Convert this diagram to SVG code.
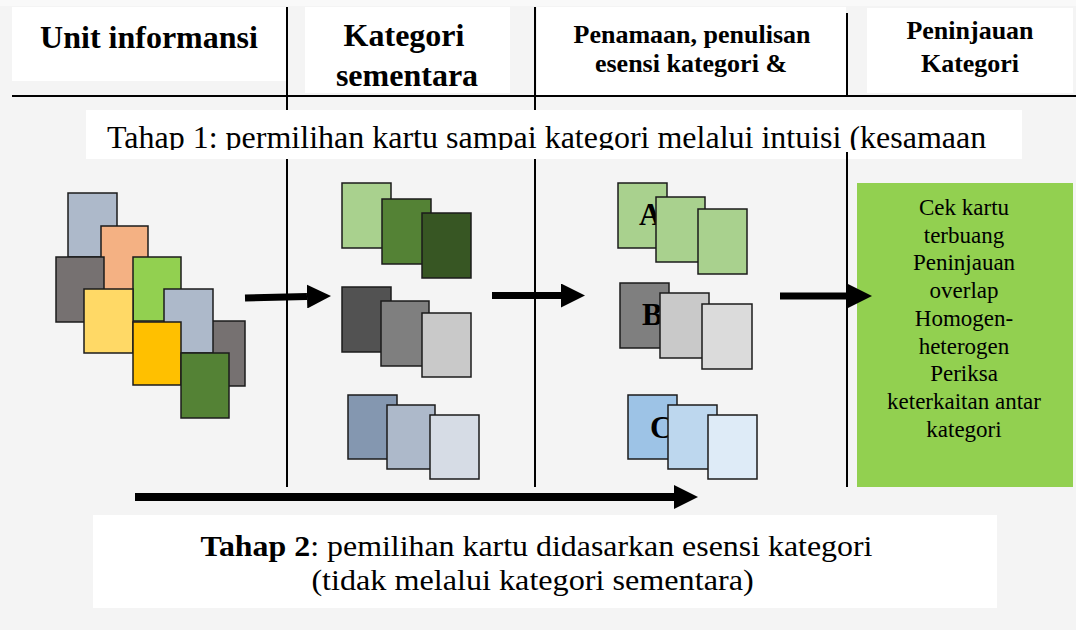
<svg xmlns="http://www.w3.org/2000/svg" width="1076" height="630" viewBox="0 0 1076 630">
  <style>
    .hdr { fill: #ffffff; }
    .ttl { font-weight: bold; fill: #000; text-anchor: middle; }
    .body { fill: #000; }
    .card { stroke: #1b1b1b; stroke-width: 1.5; }
    .vline { stroke: #000; stroke-width: 2; fill: none; }
    .arrow { stroke: #000; fill: none; }
    .lbl { font-weight: bold; font-size: 31px; fill: #000; }
  </style>
  <defs>
    <marker id="ah" markerUnits="userSpaceOnUse" markerWidth="24" markerHeight="24" viewBox="0 0 24 24" refX="0" refY="12" orient="auto">
      <path d="M0,0 L24,12 L0,24 Z" fill="#000"/>
    </marker>
    <clipPath id="t1clip">
      <rect x="86" y="105" width="936" height="45"/>
    </clipPath>
  </defs>

  <!-- background -->
  <rect x="0" y="0" width="1076" height="630" fill="#f4f4f4"/>
  <rect x="0" y="0" width="1076" height="6" fill="#f9f9f9"/>

  <!-- column dividers -->
  <g id="dividers">
    <line class="vline" x1="287" y1="7" x2="287" y2="487"/>
    <line class="vline" x1="535" y1="7" x2="535" y2="487"/>
    <line class="vline" x1="847" y1="13" x2="847" y2="97"/>
    <line class="vline" x1="847" y1="152" x2="847" y2="487"/>
    <line x1="12" y1="96" x2="1076" y2="96" stroke="#000" stroke-width="2"/>
  </g>

  <g font-family="'Liberation Serif', serif">
    <!-- header cells -->
    <g id="hdr-unit">
      <rect class="hdr" x="12" y="7" width="274" height="74"/>
      <text class="ttl" x="149" y="48" font-size="32">Unit informansi</text>
    </g>
    <g id="hdr-kategori-sementara">
      <rect class="hdr" x="305" y="7" width="205" height="86"/>
      <text class="ttl" x="404" y="46" font-size="32">Kategori</text>
      <text class="ttl" x="407" y="86" font-size="32">sementara</text>
    </g>
    <g id="hdr-penamaan">
      <rect class="hdr" x="537" y="7" width="309" height="88"/>
      <text class="ttl" x="692" y="43" font-size="26">Penamaan, penulisan</text>
      <text class="ttl" x="691" y="72" font-size="26">esensi kategori &amp;</text>
    </g>
    <g id="hdr-peninjauan">
      <rect class="hdr" x="867" y="8" width="206" height="85"/>
      <text class="ttl" x="970" y="39" font-size="26">Peninjauan</text>
      <text class="ttl" x="970" y="72" font-size="26">Kategori</text>
    </g>

    <!-- Tahap 1 banner -->
    <g id="tahap1">
      <rect x="86" y="110" width="936" height="49" fill="#ffffff"/>
      <text class="body" x="107" y="148" font-size="32" clip-path="url(#t1clip)">Tahap 1: permilihan kartu sampai kategori melalui intuisi (kesamaan</text>
    </g>
  </g>
  <line class="vline" x1="847" y1="152" x2="847" y2="160"/>

  <!-- unit informasi cards -->
  <g id="cards-unit">
    <rect class="card" x="68" y="193" width="49" height="64" fill="#adb9ca"/>
    <rect class="card" x="101" y="226" width="47" height="64" fill="#f4b183"/>
    <rect class="card" x="56" y="257" width="48" height="65" fill="#767171"/>
    <rect class="card" x="133" y="257" width="48" height="64" fill="#92d050"/>
    <rect class="card" x="84" y="289" width="49" height="64" fill="#ffd966"/>
    <rect class="card" x="197" y="321" width="48" height="65" fill="#767171"/>
    <rect class="card" x="164" y="289" width="49" height="64" fill="#adb9ca"/>
    <rect class="card" x="133" y="322" width="48" height="63" fill="#ffc000"/>
    <rect class="card" x="181" y="353" width="48" height="65" fill="#548235"/>
  </g>

  <!-- kategori sementara cards -->
  <g id="cards-sementara-green">
    <rect class="card" x="342" y="183" width="49" height="65" fill="#a9d18e"/>
    <rect class="card" x="382" y="199" width="49" height="65" fill="#548235"/>
    <rect class="card" x="422" y="213" width="49" height="65" fill="#375623"/>
  </g>
  <g id="cards-sementara-gray">
    <rect class="card" x="342" y="287" width="49" height="65" fill="#525252"/>
    <rect class="card" x="381" y="301" width="48" height="65" fill="#7f7f7f"/>
    <rect class="card" x="422" y="313" width="49" height="64" fill="#c9c9c9"/>
  </g>
  <g id="cards-sementara-blue">
    <rect class="card" x="348" y="395" width="49" height="64" fill="#8497b0"/>
    <rect class="card" x="387" y="405" width="48" height="64" fill="#adb9ca"/>
    <rect class="card" x="430" y="415" width="49" height="64" fill="#d6dce5"/>
  </g>

  <!-- named categories -->
  <g font-family="'Liberation Serif', serif">
    <g id="cards-A">
      <rect class="card" x="618" y="183" width="49" height="65" fill="#a9d18e"/>
      <text class="lbl" x="639" y="225">A</text>
      <rect class="card" x="656" y="197" width="49" height="65" fill="#a9d18e"/>
      <rect class="card" x="698" y="209" width="49" height="65" fill="#a9d18e"/>
    </g>
    <g id="cards-B">
      <rect class="card" x="620" y="283" width="49" height="65" fill="#7f7f7f"/>
      <text class="lbl" x="642" y="325">B</text>
      <rect class="card" x="660" y="293" width="49" height="65" fill="#c9c9c9"/>
      <rect class="card" x="702" y="304" width="50" height="65" fill="#dbdbdb"/>
    </g>
    <g id="cards-C">
      <rect class="card" x="628" y="395" width="49" height="64" fill="#9dc3e6"/>
      <text class="lbl" x="650" y="438">C</text>
      <rect class="card" x="668" y="405" width="49" height="64" fill="#bdd7ee"/>
      <rect class="card" x="708" y="415" width="49" height="64" fill="#deebf7"/>
    </g>

    <!-- review box -->
    <g id="review">
      <rect x="857" y="183" width="216" height="304" fill="#92d050"/>
      <g class="body" font-size="23" text-anchor="middle">
        <text x="964" y="215">Cek kartu</text>
        <text x="964" y="242.7">terbuang</text>
        <text x="964" y="270.4">Peninjauan</text>
        <text x="964" y="298.1">overlap</text>
        <text x="964" y="325.8">Homogen-</text>
        <text x="964" y="353.5">heterogen</text>
        <text x="964" y="381.2">Periksa</text>
        <text x="964" y="408.9">keterkaitan antar</text>
        <text x="964" y="436.6">kategori</text>
      </g>
    </g>
  </g>

  <!-- connectors -->
  <g id="connectors">
    <line class="arrow" x1="245" y1="298" x2="307" y2="296.5" stroke-width="7" marker-end="url(#ah)"/>
    <line class="arrow" x1="492" y1="295.5" x2="561" y2="295.5" stroke-width="7" marker-end="url(#ah)"/>
    <line class="arrow" x1="780" y1="296" x2="848" y2="296" stroke-width="7" marker-end="url(#ah)"/>
    <line class="arrow" x1="135" y1="497" x2="674" y2="497" stroke-width="8" marker-end="url(#ah)"/>
  </g>

  <!-- Tahap 2 banner -->
  <g id="tahap2" font-family="'Liberation Serif', serif">
    <rect x="93" y="515" width="904" height="93" fill="#ffffff"/>
    <text class="body" font-size="29" text-anchor="middle" transform="translate(536.5,556) scale(1.1,1)"><tspan font-weight="bold">Tahap 2</tspan>: pemilihan kartu didasarkan esensi kategori</text>
    <text class="body" font-size="29" text-anchor="middle" transform="translate(532.5,590) scale(1.11,1)">(tidak melalui kategori sementara)</text>
  </g>
</svg>
